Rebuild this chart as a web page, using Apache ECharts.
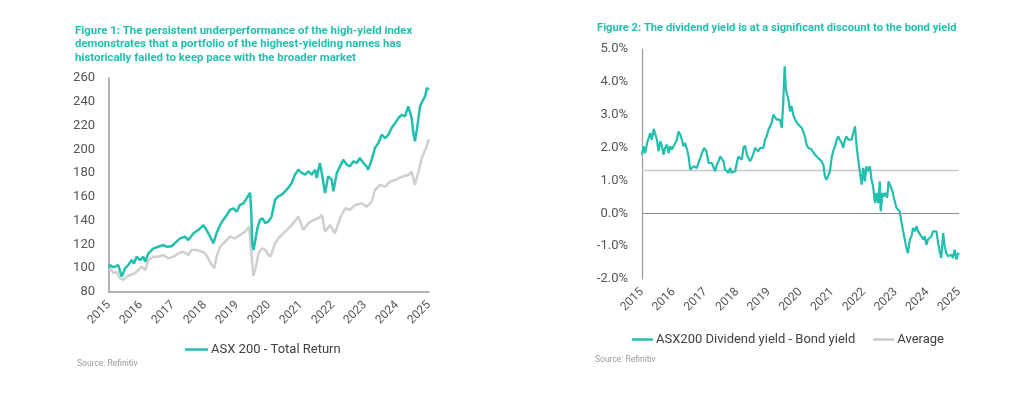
<!DOCTYPE html>
<html><head><meta charset="utf-8">
<script src="https://cdn.jsdelivr.net/npm/echarts@6/dist/echarts.min.js"></script>
<style>html,body{margin:0;padding:0;background:#fff}#c{width:1024px;height:410px}</style>
</head><body><div id="c"></div>
<script>
// Figure 1 data: [decimal year, index level]
const totalReturn = [[2015.00,100],[2015.03,102.7],[2015.12,101],[2015.19,101.3],[2015.29,102.7],[2015.35,97],[2015.40,92.9],[2015.50,99.9],[2015.60,102.7],[2015.71,106.9],[2015.78,104],[2015.86,109.7],[2015.97,106.9],[2016.07,109.7],[2016.13,105.5],[2016.23,112.5],[2016.39,116.7],[2016.54,118.1],[2016.70,119.5],[2016.80,118.1],[2016.96,118.5],[2017.11,122.3],[2017.22,125.1],[2017.38,126.5],[2017.48,123.7],[2017.64,129.4],[2017.79,132.1],[2017.95,136.3],[2018.05,132.1],[2018.16,126.5],[2018.26,121],[2018.36,129.4],[2018.47,136.3],[2018.57,140.6],[2018.68,144.8],[2018.78,149],[2018.89,150.4],[2018.99,147.5],[2019.09,153.2],[2019.20,154.6],[2019.30,158.8],[2019.41,163.5],[2019.44,150],[2019.48,120],[2019.52,115.3],[2019.58,125],[2019.64,134],[2019.72,140.8],[2019.80,141.9],[2019.88,138],[2019.98,139.2],[2020.08,143.4],[2020.19,157.7],[2020.29,160.5],[2020.40,161.9],[2020.50,164.7],[2020.60,167.5],[2020.71,171.7],[2020.81,178.7],[2020.92,182.9],[2021.02,180.1],[2021.13,178.7],[2021.23,181.5],[2021.33,178.7],[2021.44,182.9],[2021.49,175.9],[2021.59,188.5],[2021.65,180.1],[2021.75,163.3],[2021.85,177.3],[2021.96,174.5],[2022.01,164.7],[2022.12,180.1],[2022.22,185.7],[2022.32,191.3],[2022.43,187.1],[2022.53,185.7],[2022.64,189.9],[2022.74,188.5],[2022.84,192.7],[2022.95,188.5],[2023.05,185.7],[2023.10,182.9],[2023.21,191.3],[2023.31,201.1],[2023.42,205.3],[2023.52,212.3],[2023.63,209.5],[2023.73,212.3],[2023.83,217.9],[2023.94,222.1],[2024.04,226.3],[2024.15,229.1],[2024.25,227.7],[2024.35,236.2],[2024.46,226.3],[2024.51,213.7],[2024.56,206.7],[2024.62,216.5],[2024.72,236.2],[2024.82,241.8],[2024.88,244.6],[2024.93,251.6],[2024.98,253],[2025.00,250.2]];
const highYield = [[2015.00,98],[2015.03,99.9],[2015.14,95.7],[2015.24,97.1],[2015.34,91.5],[2015.45,90.1],[2015.55,92.9],[2015.66,94.3],[2015.81,95.7],[2015.92,98.5],[2016.02,101.3],[2016.13,98.5],[2016.23,106.9],[2016.39,109.7],[2016.54,109.7],[2016.70,111.1],[2016.85,108.3],[2017.01,109.7],[2017.17,112.5],[2017.32,113.9],[2017.48,111.1],[2017.58,115.3],[2017.74,115.3],[2017.90,113.9],[2018.00,112.5],[2018.10,108.3],[2018.21,102.7],[2018.29,99.9],[2018.36,109.7],[2018.47,118.1],[2018.63,122.3],[2018.78,126.5],[2018.94,125.1],[2019.09,127.9],[2019.25,130.7],[2019.38,134.9],[2019.46,109.7],[2019.51,93.5],[2019.58,99.9],[2019.67,112.5],[2019.77,116.7],[2019.88,115.5],[2019.98,111],[2020.05,110],[2020.19,121],[2020.29,125.1],[2020.50,130.7],[2020.71,136.3],[2020.92,143.4],[2021.07,132.1],[2021.23,137.8],[2021.39,140.6],[2021.54,142],[2021.65,144.8],[2021.75,130.7],[2021.91,136.3],[2022.06,129.4],[2022.22,142],[2022.38,150.4],[2022.53,149],[2022.69,153.2],[2022.90,154.6],[2023.05,151.7],[2023.21,156],[2023.31,165.8],[2023.47,170],[2023.63,168.6],[2023.78,172.8],[2023.94,174.2],[2024.15,177],[2024.35,178.4],[2024.46,181.2],[2024.56,170],[2024.67,181.2],[2024.77,192.4],[2024.88,199.4],[2025.00,208.5]];

// Figure 2 data: [decimal year, % spread]
const spread = [[2015.00,1.78],[2015.05,2.04],[2015.10,1.83],[2015.16,2.14],[2015.21,2.29],[2015.26,2.44],[2015.31,2.24],[2015.37,2.57],[2015.42,2.60],[2015.47,2.24],[2015.52,1.89],[2015.58,2.19],[2015.63,2.04],[2015.68,1.78],[2015.73,1.99],[2015.79,2.09],[2015.84,1.83],[2015.89,2.04],[2015.94,1.94],[2016.00,1.99],[2016.05,2.14],[2016.10,2.24],[2016.15,2.49],[2016.21,2.39],[2016.26,2.24],[2016.31,2.04],[2016.36,2.14],[2016.42,1.94],[2016.47,1.73],[2016.52,1.33],[2016.57,1.28],[2016.63,1.43],[2016.68,1.48],[2016.73,1.38],[2016.78,1.53],[2016.84,1.68],[2016.89,1.83],[2016.96,1.99],[2017.03,1.89],[2017.10,1.53],[2017.15,1.48],[2017.20,1.53],[2017.26,1.48],[2017.31,1.28],[2017.36,1.48],[2017.41,1.58],[2017.47,1.73],[2017.52,1.78],[2017.57,1.58],[2017.62,1.33],[2017.68,1.28],[2017.73,1.23],[2017.78,1.38],[2017.83,1.23],[2017.89,1.17],[2017.94,1.28],[2017.99,1.53],[2018.04,1.73],[2018.10,1.78],[2018.15,1.63],[2018.20,1.99],[2018.25,2.06],[2018.31,1.78],[2018.36,1.73],[2018.41,1.58],[2018.46,1.68],[2018.52,1.83],[2018.57,1.99],[2018.62,1.94],[2018.67,1.89],[2018.73,1.99],[2018.78,2.04],[2018.83,1.99],[2018.88,2.24],[2018.93,2.34],[2018.99,2.54],[2019.04,2.60],[2019.09,2.75],[2019.14,3.00],[2019.20,2.95],[2019.25,2.85],[2019.30,2.80],[2019.35,2.85],[2019.41,2.60],[2019.46,3.46],[2019.50,4.47],[2019.54,3.76],[2019.59,3.56],[2019.63,3.41],[2019.67,3.10],[2019.72,3.26],[2019.77,3.00],[2019.83,2.85],[2019.88,2.80],[2019.93,2.70],[2019.98,2.75],[2020.04,2.60],[2020.09,2.65],[2020.14,2.34],[2020.19,2.09],[2020.25,1.99],[2020.30,1.99],[2020.35,1.94],[2020.40,1.94],[2020.46,1.78],[2020.51,1.83],[2020.56,1.68],[2020.61,1.73],[2020.67,1.58],[2020.72,1.48],[2020.77,1.12],[2020.82,1.02],[2020.88,1.02],[2020.93,1.28],[2020.98,1.68],[2021.03,1.89],[2021.09,2.04],[2021.14,2.24],[2021.19,2.34],[2021.24,2.24],[2021.30,2.14],[2021.35,1.99],[2021.40,2.24],[2021.45,2.34],[2021.51,2.24],[2021.56,2.19],[2021.61,2.24],[2021.66,2.19],[2021.72,2.65],[2021.77,2.04],[2021.82,1.63],[2021.87,1.28],[2021.93,0.87],[2021.98,1.38],[2022.03,0.97],[2022.08,1.43],[2022.14,1.28],[2022.19,1.43],[2022.24,1.02],[2022.29,0.82],[2022.35,0.31],[2022.40,0.62],[2022.45,0.31],[2022.50,0.97],[2022.53,0.06],[2022.59,0.62],[2022.63,0.52],[2022.69,0.62],[2022.73,0.47],[2022.78,0.97],[2022.84,0.92],[2022.90,0.67],[2022.96,0.41],[2023.03,0.16],[2023.08,0.11],[2023.13,0.06],[2023.18,-0.25],[2023.24,-0.55],[2023.29,-0.80],[2023.34,-1.06],[2023.39,-1.21],[2023.45,-0.80],[2023.50,-0.70],[2023.55,-0.45],[2023.60,-0.55],[2023.66,-0.40],[2023.71,-0.55],[2023.76,-0.50],[2023.81,-0.70],[2023.87,-0.80],[2023.92,-0.70],[2023.97,-0.96],[2024.02,-0.80],[2024.08,-0.85],[2024.13,-0.70],[2024.18,-0.55],[2024.23,-0.50],[2024.29,-0.55],[2024.34,-0.90],[2024.39,-1.16],[2024.44,-1.36],[2024.50,-0.60],[2024.55,-1.01],[2024.60,-1.21],[2024.65,-1.31],[2024.71,-1.36],[2024.76,-1.26],[2024.81,-1.36],[2024.86,-1.11],[2024.92,-1.41],[2024.97,-1.21],[2025.00,-1.26]];
const average = [[2015.00,1.3],[2025.00,1.3]];

const teal = '#22BFAE';
const grey = '#CFCFCF';
const axisGrey = '#9a9a9a';
const labelColor = '#555555';
const font = 'Roboto';

const chart = echarts.init(document.getElementById('c'));
const xAxisBase = {
  type: 'value', min: 2015, max: 2025, interval: 1,
  axisTick: { show: false }, splitLine: { show: false },
  axisLabel: { rotate: 45, formatter: v => String(v), color: labelColor, fontSize: 12, fontFamily: font, margin: 11, showMaxLabel: true, showMinLabel: true }
};
chart.setOption({
  animation: false,
  title: [
    { text: 'Figure 1: The persistent underperformance of the high-yield index\ndemonstrates that a portfolio of the highest-yielding names has\nhistorically failed to keep pace with the broader market',
      left: 75, top: 24, padding: 0,
      textStyle: { color: teal, fontSize: 11.4, fontWeight: 'bold', lineHeight: 13.5, fontFamily: font } },
    { text: 'Figure 2: The dividend yield is at a significant discount to the bond yield',
      left: 597, top: 21, padding: 0,
      textStyle: { color: teal, fontSize: 11.2, fontWeight: 'bold', lineHeight: 13.5, fontFamily: font } },
    { text: 'Source: Refinitiv', left: 77, top: 359, padding: 0,
      textStyle: { color: '#9a9a9a', fontSize: 8.5, fontWeight: 'normal', fontFamily: font } },
    { text: 'Source: Refinitiv', left: 595, top: 355, padding: 0,
      textStyle: { color: '#9a9a9a', fontSize: 8.5, fontWeight: 'normal', fontFamily: font } }
  ],
  legend: [
    { data: ['ASX 200 - Total Return'], left: 185, top: 343, padding: 0, icon: 'rect', itemWidth: 23, itemHeight: 2.5, itemGap: 18,
      textStyle: { color: '#404040', fontSize: 13, fontFamily: font, padding: [0, 0, 0, -2] } },
    { data: ['ASX200 Dividend yield - Bond yield', 'Average'], left: 632, top: 333, padding: 0, icon: 'rect', itemWidth: 21, itemHeight: 2.5, itemGap: 18,
      textStyle: { color: '#404040', fontSize: 13, fontFamily: font, padding: [0, 0, 0, -2] } }
  ],
  grid: [
    { left: 109, top: 78, width: 320, height: 214 },
    { left: 642, top: 49, width: 317, height: 230 }
  ],
  xAxis: [
    Object.assign({}, xAxisBase, { gridIndex: 0, axisLine: { show: true, onZero: false, lineStyle: { color: axisGrey, width: 1.5 } } }),
    Object.assign({}, xAxisBase, { gridIndex: 1, axisLine: { show: false } })
  ],
  yAxis: [
    { gridIndex: 0, type: 'value', min: 80, max: 260, interval: 20,
      axisLine: { show: true, onZero: false, lineStyle: { color: axisGrey, width: 1.5 } },
      axisTick: { show: false }, splitLine: { show: false },
      axisLabel: { color: labelColor, fontSize: 13, fontFamily: font, margin: 14 } },
    { gridIndex: 1, type: 'value', min: -2, max: 5, interval: 1,
      axisLine: { show: true, onZero: false, lineStyle: { color: axisGrey, width: 1.2 } },
      axisTick: { show: false }, splitLine: { show: false },
      axisLabel: { color: labelColor, fontSize: 13, fontFamily: font, margin: 14, formatter: v => v.toFixed(1) + '%' } }
  ],
  series: [
    { name: 'High-yield index', type: 'line', xAxisIndex: 0, yAxisIndex: 0, data: highYield, symbol: 'none',
      lineStyle: { color: grey, width: 2.5 }, itemStyle: { color: grey }, z: 2 },
    { name: 'ASX 200 - Total Return', type: 'line', xAxisIndex: 0, yAxisIndex: 0, data: totalReturn, symbol: 'none',
      lineStyle: { color: teal, width: 2.5 }, itemStyle: { color: teal }, z: 3 },
    { name: 'Average', type: 'line', xAxisIndex: 1, yAxisIndex: 1, data: average, symbol: 'none',
      lineStyle: { color: '#C8C8C8', width: 1.5 }, itemStyle: { color: '#C8C8C8' }, z: 2 },
    { name: 'ASX200 Dividend yield - Bond yield', type: 'line', xAxisIndex: 1, yAxisIndex: 1, data: spread, symbol: 'none',
      lineStyle: { color: teal, width: 2.2 }, itemStyle: { color: teal }, z: 3,
      markLine: { silent: true, symbol: 'none', label: { show: false }, animation: false,
        lineStyle: { color: '#8c8c8c', width: 1.2, type: 'solid' }, data: [{ yAxis: 0 }] } }
  ]
});
</script>
</body></html>
